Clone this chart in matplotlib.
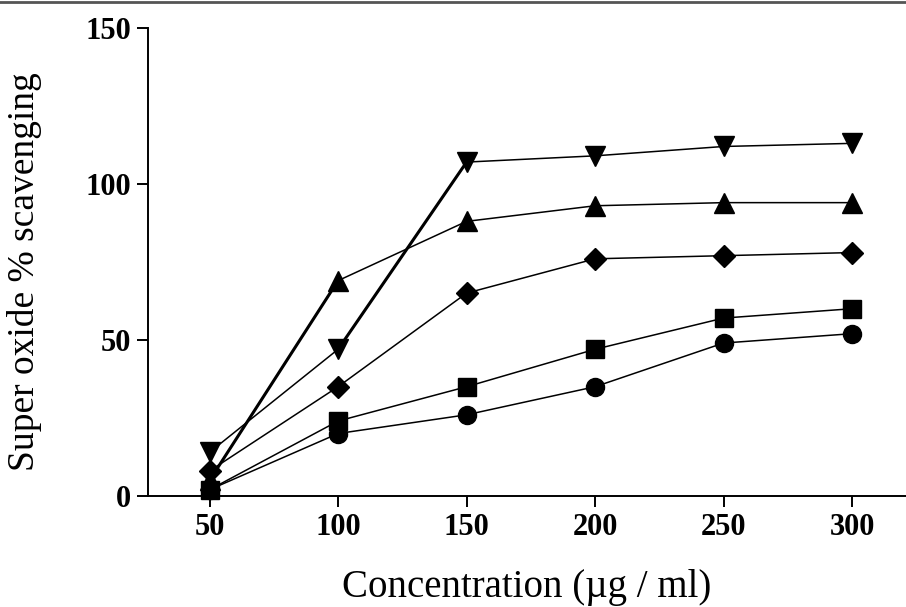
import matplotlib.pyplot as plt
from matplotlib.lines import Line2D

plt.rc('font', family='Liberation Serif', size=20)

conc = [50, 100, 150, 200, 250, 300]
s_down = [14, 47, 107, 109, 112, 113]
s_up = [5, 69, 88, 93, 94, 94]
s_diamond = [8, 35, 65, 76, 77, 78]
s_square = [2, 24, 35, 47, 57, 60]
s_circle = [2, 20, 26, 35, 49, 52]

fig = plt.figure(figsize=(9.06, 6.07), dpi=100)
ax = fig.add_axes([0.163, 0.183, 0.837, 0.771])

series = [(s_circle, 'o', 13), (s_square, 's', 13), (s_diamond, 'D', 11),
          (s_up, '^', 14), (s_down, 'v', 14)]
for vals, m, ms in series:
    ax.plot(conc, vals, color='black', lw=1.1, marker=m, markersize=ms,
            clip_on=False)

# the two steep segments are drawn heavier in the original
ax.plot(conc[0:2], s_up[0:2], color='black', lw=2.2)
ax.plot(conc[1:3], s_down[1:3], color='black', lw=2.2)

ax.set_xlim(25.9, 321)
ax.set_ylim(0, 150)
ax.set_xticks(conc)
ax.set_yticks([0, 50, 100, 150])
ax.spines['top'].set_visible(False)
ax.spines['right'].set_visible(False)
ax.spines['left'].set_linewidth(1.4)
ax.spines['bottom'].set_linewidth(1.4)
ax.tick_params(width=1.4, length=8, labelsize=22)
ax.tick_params(axis='x', pad=4)
ax.tick_params(axis='y', pad=4)
for t in ax.get_xticklabels() + ax.get_yticklabels():
    t.set_fontweight('bold')

ax.set_xlabel('Concentration (\u00b5g / ml)', fontsize=28, labelpad=20)
ax.set_ylabel('Super oxide % scavenging', fontsize=27, labelpad=24)
ax.yaxis.set_label_coords(-0.14, 0.48)

fig.add_artist(Line2D([0, 1], [0.996, 0.996], transform=fig.transFigure,
                      color='#555555', lw=2))

fig.savefig('out.png', dpi=100)
